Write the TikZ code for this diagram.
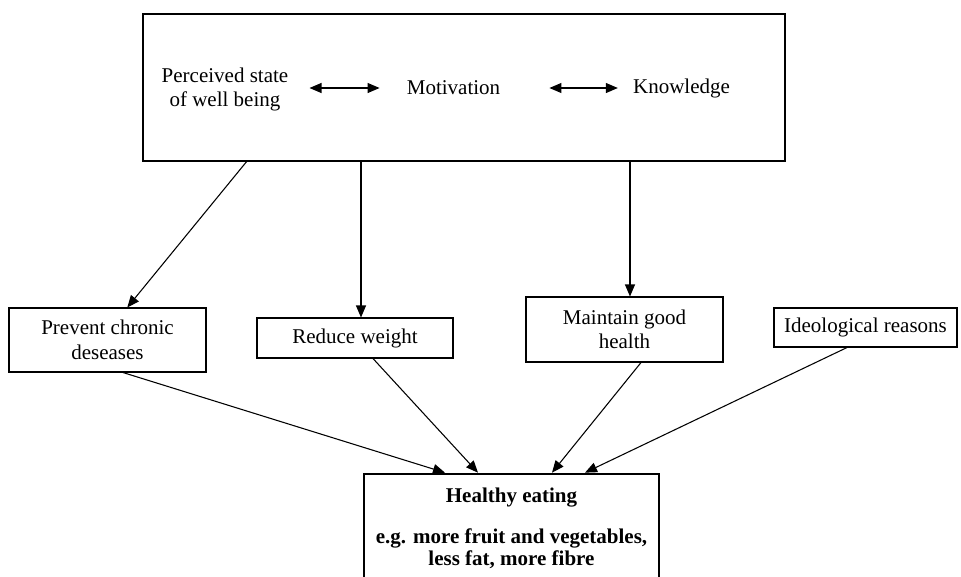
\documentclass[tikz,border=0pt]{standalone}
\usepackage{fontspec}
\setmainfont{Liberation Serif}
\usetikzlibrary{positioning,calc,arrows.meta}
\definecolor{ink}{RGB}{0,0,0}
\tikzset{
  arrow/.style={-{Triangle[length=9pt,width=7.5pt]}, line width=0.8pt, draw=ink},
  both/.style={{Triangle[length=9pt,width=7.5pt]}-{Triangle[length=9pt,width=7.5pt]}, line width=0.8pt, draw=ink},
  factor/.style={font=\fontsize{15.75}{18.4}\selectfont, text=ink, align=center, inner sep=0pt},
  reason/.style={draw=ink, line width=0.8pt, fill=white, font=\fontsize{15.75}{18.4}\selectfont, text=ink, align=center, inner sep=0pt},
  goal/.style={draw=ink, line width=2pt, fill=white, font=\fontsize{15.75}{16.5}\selectfont\bfseries, text=ink, align=center, inner sep=0pt},
}

\begin{document}
\begin{tikzpicture}[x=0.75pt,y=-0.75pt]
  \useasboundingbox (0,0) rectangle (961,576);

  % Influences panel
  \node[draw=ink, line width=0.8pt, minimum width=481.5pt, minimum height=110.25pt] (infl) at (464,87.5) {};
  \node[factor] (perc) at (225,89.5) {Perceived state\\of well being};
  \node[factor] (motiv) at (453.5,88) {Motivation};
  \node[factor] (know) at (681.5,88) {Knowledge};

  \draw[both, shorten <=15.75pt, shorten >=20.25pt] (perc.east |- motiv.west) -- (motiv.west);
  \draw[both, shorten <=36.75pt, shorten >=11.25pt] (motiv.east) -- (know.west);

  % Reasons
  \node[reason, minimum width=147.75pt, minimum height=48pt] (prev) at (107.5,340) {Prevent chronic\\deseases};
  \node[reason, minimum width=147pt, minimum height=30pt] (red) at (355,338) {Reduce weight};
  \node[reason, minimum width=147.75pt, minimum height=48.75pt] (maint) at (624.5,329.5) {Maintain good\\health};
  \node[reason, minimum width=137.25pt, minimum height=29.25pt] (ideo) at (865.5,327.5) {Ideological reasons};

  % Outcome
  \node[goal, minimum width=221.25pt, minimum height=81pt] (eat) at (511.5,528) {Healthy eating\\[14pt]e.g. more fruit and vegetables,\\less fat, more fibre};

  % Connections
  \draw[arrow] ($(infl.south west)!0.162!(infl.south east)$) -- ($(prev.north west)!0.6!(prev.north east)$);
  \draw[arrow] ($(infl.south -| red.north)+(6,0)$) -- ($(red.north)+(6,0)$);
  \draw[arrow] ($(infl.south -| maint.north)+(5.5,0)$) -- ($(maint.north)+(5.5,0)$);

  \draw[arrow] ($(prev.south)+(15.5,0)$) -- ($(eat.north)+(-66.5,0)$);
  \draw[arrow] ($(red.south)+(18,0)$) -- ($(eat.north)+(-33.5,0)$);
  \draw[arrow] ($(maint.south)+(16.5,0)$) -- ($(eat.north)+(40.5,0)$);
  \draw[arrow] ($(ideo.south)+(-18.5,0)$) -- ($(eat.north)+(73.5,0)$);
\end{tikzpicture}
\end{document}
